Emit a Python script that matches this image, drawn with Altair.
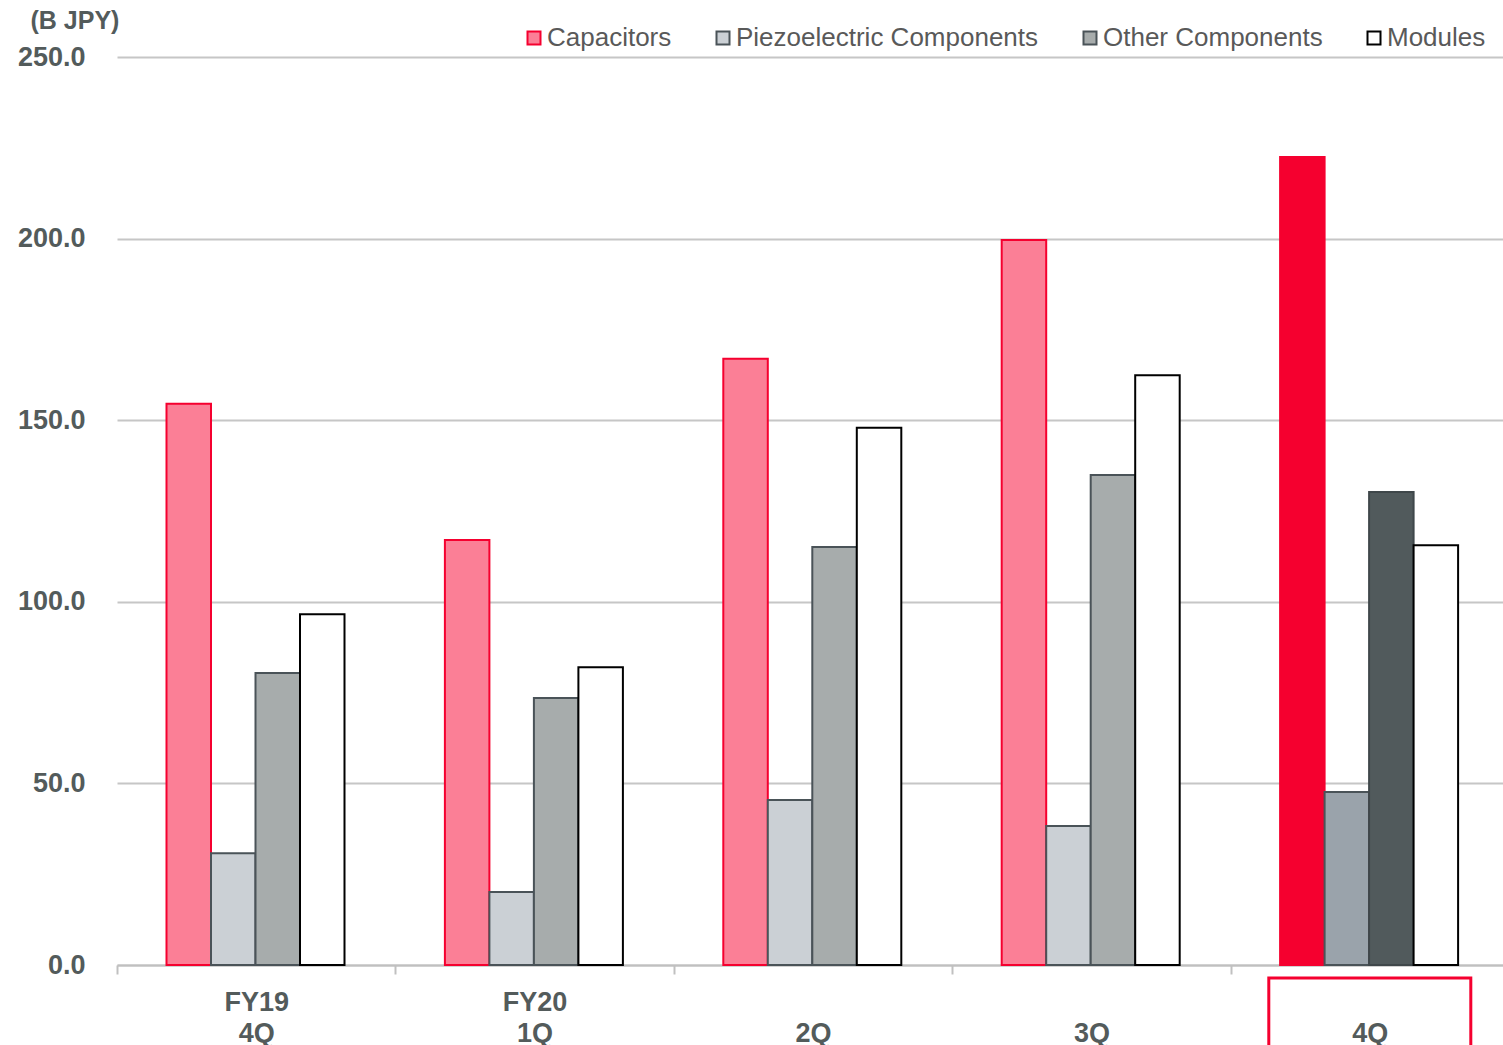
import altair as alt
import pandas as pd

groups = ["FY19 4Q", "FY20 1Q", "2Q", "3Q", "4Q"]
series = ["Capacitors", "Piezoelectric Components", "Other Components", "Modules"]
capacitors = [154.5, 117.0, 166.9, 199.6, 222.5]
piezo = [30.8, 20.1, 45.4, 38.3, 47.6]
other = [80.4, 73.5, 115.1, 134.9, 130.2]
modules = [96.6, 82.0, 147.9, 162.4, 115.6]
y_ticks = [0, 50, 100, 150, 200, 250]
highlight_group = "4Q"

rows = []
for i, g in enumerate(groups):
    for s, vals in zip(series, [capacitors, piezo, other, modules]):
        rows.append({"group": g, "series": s, "value": vals[i]})
df = pd.DataFrame(rows)

fill_normal = ["#fb7f96", "#cbd0d5", "#a7acac", "#ffffff"]
stroke_normal = ["#f5002f", "#4a5358", "#4a5358", "#000000"]
fill_hl = ["#f5002f", "#9aa3ab", "#515a5c", "#ffffff"]
stroke_hl = ["#f5002f", "#4a5358", "#3f474a", "#000000"]

W, H = 1386, 908
XR = 1392
FONT = "Liberation Sans"
TXT = "#535b5b"

x_enc = alt.X(
    "group:N",
    sort=groups,
    scale=alt.Scale(paddingInner=0, paddingOuter=0, range=[0, XR]),
    axis=alt.Axis(
        title=None,
        labelAngle=0,
        labelExpr="length(split(datum.label, ' ')) == 1 ? ['', datum.label] : split(datum.label, ' ')",
        labelFont=FONT,
        labelFontSize=27,
        labelFontWeight="bold",
        labelColor=TXT,
        labelBaseline="top",
        labelLineHeight=31,
        labelPadding=15,
        domainColor="#c0c0c0",
        domainWidth=2,
        tickColor="#c0c0c0",
        tickWidth=2,
        tickSize=9,
        tickBand="extent",
        grid=False,
    ),
)
y_enc = alt.Y(
    "value:Q",
    scale=alt.Scale(domain=[0, 250], nice=False),
    axis=alt.Axis(
        title="(B JPY)",
        titleAngle=0,
        titleX=-87,
        titleY=-37,
        titleAlign="left",
        titleBaseline="middle",
        titleFont=FONT,
        titleFontSize=25,
        titleFontWeight="bold",
        titleColor=TXT,
        values=y_ticks,
        format=".1f",
        labelFont=FONT,
        labelFontSize=27,
        labelFontWeight="bold",
        labelColor=TXT,
        labelPadding=32,
        domain=False,
        ticks=False,
        grid=True,
        gridColor="#c6c6c6",
        gridWidth=2,
    ),
)
xo = alt.XOffset("series:N", sort=series,
                 scale=alt.Scale(range=[49.5, 227.5], paddingInner=0, paddingOuter=0))

base = alt.Chart(df)

normal = base.transform_filter(alt.datum.group != highlight_group).mark_bar(strokeWidth=2).encode(
    x=x_enc,
    xOffset=xo,
    y=y_enc,
    fill=alt.Fill(
        "series:N",
        sort=series,
        scale=alt.Scale(domain=series, range=fill_normal),
        legend=alt.Legend(
            title=None,
            orient="none",
            legendX=404,
            legendY=-32,
            direction="horizontal",
            symbolType="square",
            symbolSize=169,
            symbolStrokeWidth=2,
            labelFont=FONT,
            labelFontSize=26,
            labelColor="#595959",
            labelOffset=0,
            columnPadding=38,
            labelLimit=500,
        ),
    ),
    stroke=alt.Stroke(
        "series:N",
        sort=series,
        scale=alt.Scale(domain=series, range=stroke_normal),
    ),
)

hl = base.transform_filter(alt.datum.group == highlight_group).mark_bar(strokeWidth=2).encode(
    x=x_enc,
    xOffset=xo,
    y=y_enc,
    fill=alt.Fill("series:N", sort=series, scale=alt.Scale(domain=series, range=fill_hl), legend=None),
    stroke=alt.Stroke("series:N", sort=series, scale=alt.Scale(domain=series, range=stroke_hl), legend=None),
)

box = alt.Chart(pd.DataFrame({"group": [highlight_group]})).mark_bar(
    width=202, filled=False, stroke="#f5002f", strokeWidth=3, clip=False
).encode(
    x=alt.X("group:N", sort=groups),
    y=alt.value(H + 13),
    y2=alt.value(H + 120),
)

chart = (
    alt.layer(normal, hl, box)
    .resolve_scale(fill="independent", stroke="independent")
    .properties(
        width=W,
        height=H,
        autosize=alt.AutoSizeParams(type="none"),
        padding={"left": 117, "top": 57, "right": 0, "bottom": 80},
        background="white",
    )
    .configure_view(stroke=None)
)

chart.save("out.html", embed_options={"renderer": "svg", "actions": False})
